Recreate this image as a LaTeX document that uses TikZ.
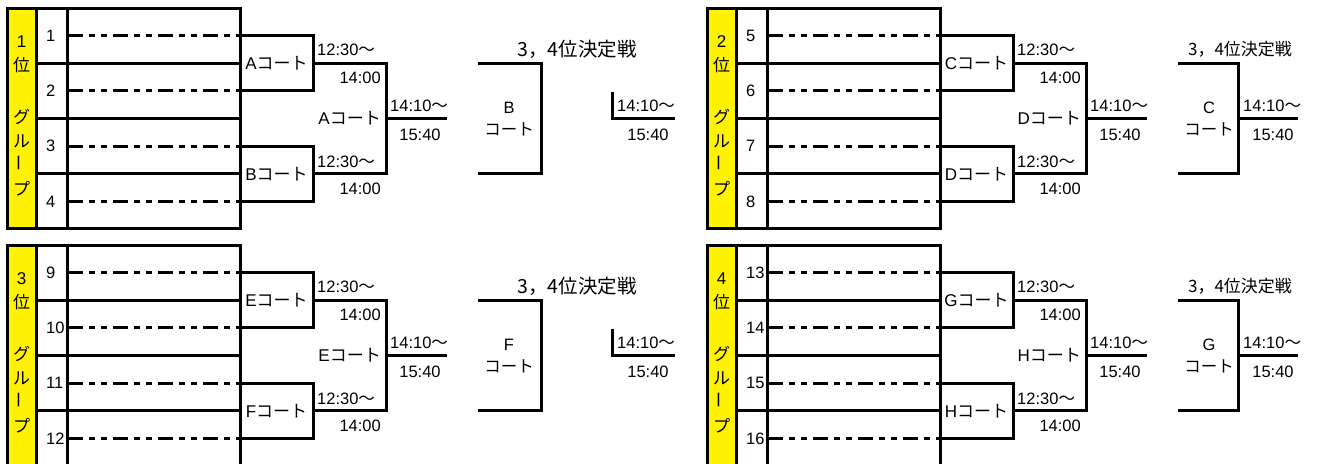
\documentclass[tikz,border=0pt]{standalone}
\usepackage{fontspec}
\setmainfont{Liberation Sans}
\newfontfamily\jp{Noto Sans CJK JP}

\begin{document}
\begin{tikzpicture}[x=1pt,y=-1pt,
    line/.style={line width=3pt},
    dashdot/.style={line width=3pt,dash pattern=on 15pt off 6pt on 6pt off 6pt on 6pt off 6pt,dash phase=44pt},
    num/.style={anchor=west,inner sep=0pt,font=\fontsize{16.5}{16.5}\selectfont},
    time/.style={inner sep=0pt,font=\fontsize{16.5}{16.5}\selectfont},
    court/.style={inner sep=0pt,font=\fontsize{17}{17}\selectfont},
    final/.style={inner sep=0pt,align=center,font=\fontsize{16.5}{22}\selectfont},
    group/.style={inner sep=0pt,align=center,font=\fontsize{17}{24}\selectfont}]
\useasboundingbox (0,0) rectangle (1322,463);
\foreach \dx/\dy/\rank/\first/\cu/\cl/\cmid/\cfin in
    {0/0/1/1/A/B/A/B, 700/0/2/5/C/D/D/C, 0/237/3/9/E/F/E/F, 700/237/4/13/G/H/H/G}
{
\begin{scope}[shift={(\dx,\dy)}]
    % group column and team table
    \fill[yellow] (8,8) rectangle (36,228);
    \draw[line] (7.5,8) rectangle (240,228) (36,8) -- (36,228) (67,8) -- (67,228);
    \node[group] (g1) at (21.5,54.5) {\rank\\{\jp 位}};
    \node[group,font=\jp\fontsize{17}{24}\selectfont] (g2) at (21.5,153) {グ\\ル\\\rotatebox{90}{ー}\\プ};
    \foreach \k in {1,2,3}
        \draw[line] (36,{8+55.25*\k}) -- (240,{8+55.25*\k});
    \foreach \k in {1,...,4}{
        \pgfmathsetmacro\ty{35.6+55.25*(\k-1)}
        \pgfmathtruncatemacro\tn{\first+\k-1}
        \node[num] (n\k) at (46,\ty) {\tn};
        \coordinate (d\k) at (67,\ty);
        \coordinate (t\k) at (240,\ty);
        \draw[dashdot] (d\k) -- (t\k);
    }
    % first round
    \coordinate (q1) at (313,63.3);
    \coordinate (q2) at (313,173.8);
    \draw[line] (t1) -| (q1) |- (t2);
    \draw[line] (t3) -| (q2) |- (t4);
    \node[court] (c1) at (276.5,63.3) {\cu{\jp コート}};
    \node[court] (c2) at (276.5,173.8) {\cl{\jp コート}};
    % semi final
    \coordinate (s) at (386,118.5);
    \coordinate (w) at (447,118.5);
    \draw[line] (q1) -| (s) (q2) -| (s) -- (w);
    \node[time,anchor=west] (a1) at (317,50) {12:30{\jp ～}};
    \node[time,anchor=east] (e1) at (381,78) {14:00};
    \node[time,anchor=west] (a2) at (317,162) {12:30{\jp ～}};
    \node[time,anchor=east] (e2) at (381,189) {14:00};
    \node[court,anchor=east] (cm) at (381,118.5) {\cmid{\jp コート}};
    \node[time,anchor=west] (a3) at (390,106) {14:10{\jp ～}};
    \node[time] (e3) at (420,135) {15:40};
    % 3rd place match
    \coordinate (b1) at (478,63.3);
    \coordinate (b2) at (478,173.8);
    \node[final] (cf) at (509,119) {\cfin\\{\jp コート}};
    \ifnum\dx=0
        \node[inner sep=0pt,font=\jp\fontsize{19.5}{20}\selectfont] (ttl) at (577,49) {3，4位決定戦};
        \coordinate (bm) at (541,118.5);
        \draw[line] (b1) -| (bm) |- (b2);
        \coordinate (u) at (612,92);
        \coordinate (v) at (675,118.5);
        \draw[line] (u) |- (v);
        \node[time,anchor=west] (a4) at (617,106) {14:10{\jp ～}};
        \node[time] (e4) at (648,135) {15:40};
    \else
        \node[inner sep=0pt,font=\jp\fontsize{17}{17}\selectfont] (ttl) at (540,49) {3，4位決定戦};
        \coordinate (bm) at (538,118.5);
        \coordinate (v) at (598,118.5);
        \draw[line] (b1) -| (bm) |- (b2) (bm) -- (v);
        \node[time,anchor=west] (a4) at (543,106) {14:10{\jp ～}};
        \node[time] (e4) at (573,135) {15:40};
    \fi
\end{scope}
}
\end{tikzpicture}
\end{document}
